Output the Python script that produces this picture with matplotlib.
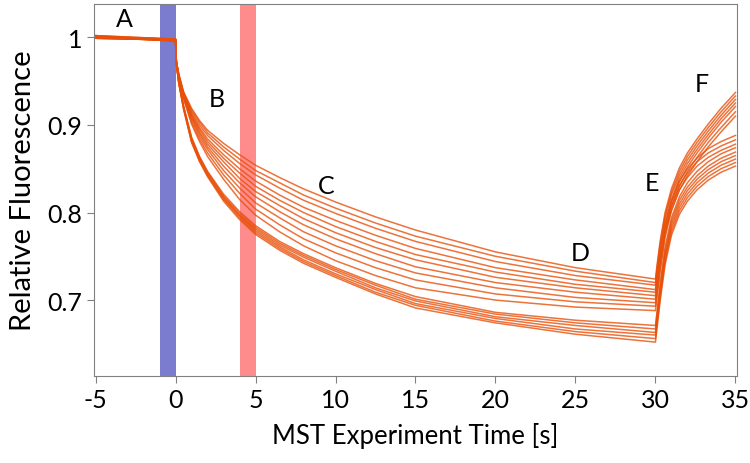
import matplotlib
matplotlib.use("Agg")
import matplotlib.pyplot as plt

plt.rcParams["font.family"] = ["Lato", "DejaVu Sans"]
plt.rcParams["axes.unicode_minus"] = False

# time grids [s]
t_base = [-5, 0]
t_decay = [0.05, 0.2, 0.5, 1, 1.5, 2, 3, 4, 5, 6.5, 8, 10, 12.5, 15, 20, 25, 30]
t_recov = [30.1, 30.3, 30.6, 31, 31.5, 32, 32.6, 33.3, 34.1, 35]

# baseline level before IR laser on (one per trace)
base_start = [1.002, 1.001, 1.000, 1.001, 0.999, 1.000, 1.002, 0.999,
              1.001, 1.000, 0.999, 1.001, 1.000, 0.999, 1.002, 1.000]
base_end = [0.998, 0.997, 0.996, 0.998, 0.997, 0.996, 0.998, 0.997,
            0.996, 0.998, 0.997, 0.996, 0.998, 0.997, 0.996, 0.997]

# thermophoresis (laser on), values at t_decay
decay = [
    [0.972, 0.958, 0.938, 0.919, 0.905, 0.894, 0.879, 0.866, 0.854, 0.840, 0.827, 0.812, 0.795, 0.780, 0.755, 0.737, 0.724],
    [0.972, 0.958, 0.937, 0.917, 0.903, 0.891, 0.875, 0.861, 0.848, 0.834, 0.820, 0.805, 0.788, 0.773, 0.750, 0.733, 0.720],
    [0.972, 0.957, 0.936, 0.915, 0.900, 0.888, 0.871, 0.856, 0.843, 0.828, 0.814, 0.799, 0.782, 0.767, 0.744, 0.728, 0.717],
    [0.972, 0.957, 0.935, 0.913, 0.897, 0.884, 0.866, 0.850, 0.836, 0.820, 0.806, 0.791, 0.774, 0.759, 0.737, 0.723, 0.712],
    [0.972, 0.956, 0.935, 0.911, 0.895, 0.881, 0.862, 0.845, 0.830, 0.814, 0.800, 0.784, 0.767, 0.752, 0.732, 0.718, 0.709],
    [0.972, 0.956, 0.934, 0.910, 0.892, 0.878, 0.858, 0.839, 0.824, 0.808, 0.793, 0.777, 0.760, 0.746, 0.726, 0.714, 0.705],
    [0.971, 0.956, 0.933, 0.908, 0.890, 0.875, 0.853, 0.834, 0.818, 0.801, 0.786, 0.770, 0.753, 0.738, 0.720, 0.709, 0.701],
    [0.971, 0.955, 0.932, 0.906, 0.887, 0.872, 0.848, 0.828, 0.811, 0.794, 0.778, 0.762, 0.745, 0.731, 0.714, 0.703, 0.697],
    [0.971, 0.955, 0.931, 0.903, 0.884, 0.868, 0.843, 0.822, 0.804, 0.786, 0.770, 0.754, 0.737, 0.723, 0.707, 0.698, 0.693],
    [0.971, 0.954, 0.930, 0.901, 0.881, 0.864, 0.838, 0.815, 0.797, 0.778, 0.762, 0.745, 0.728, 0.714, 0.700, 0.692, 0.688],
    [0.970, 0.950, 0.922, 0.886, 0.864, 0.847, 0.821, 0.801, 0.785, 0.767, 0.753, 0.737, 0.719, 0.704, 0.686, 0.677, 0.671],
    [0.970, 0.950, 0.921, 0.885, 0.863, 0.846, 0.819, 0.799, 0.783, 0.765, 0.751, 0.735, 0.717, 0.701, 0.684, 0.674, 0.667],
    [0.970, 0.949, 0.920, 0.884, 0.862, 0.845, 0.818, 0.797, 0.781, 0.763, 0.749, 0.733, 0.714, 0.699, 0.681, 0.671, 0.663],
    [0.970, 0.949, 0.920, 0.882, 0.860, 0.843, 0.816, 0.796, 0.779, 0.761, 0.746, 0.730, 0.712, 0.696, 0.679, 0.667, 0.660],
    [0.970, 0.948, 0.919, 0.881, 0.859, 0.842, 0.815, 0.794, 0.777, 0.759, 0.744, 0.728, 0.709, 0.694, 0.676, 0.664, 0.656],
    [0.970, 0.948, 0.918, 0.880, 0.858, 0.841, 0.813, 0.792, 0.775, 0.757, 0.742, 0.726, 0.707, 0.691, 0.674, 0.661, 0.652],
]

# back-diffusion (laser off), values at t_recov
recov = [
    [0.740, 0.768, 0.800, 0.827, 0.851, 0.868, 0.884, 0.901, 0.919, 0.937],
    [0.736, 0.764, 0.796, 0.823, 0.847, 0.864, 0.880, 0.897, 0.915, 0.933],
    [0.733, 0.761, 0.793, 0.820, 0.843, 0.860, 0.876, 0.893, 0.911, 0.929],
    [0.728, 0.756, 0.788, 0.815, 0.839, 0.856, 0.872, 0.889, 0.907, 0.925],
    [0.725, 0.753, 0.785, 0.812, 0.835, 0.852, 0.868, 0.885, 0.903, 0.921],
    [0.721, 0.748, 0.780, 0.807, 0.830, 0.847, 0.863, 0.880, 0.897, 0.915],
    [0.717, 0.744, 0.776, 0.802, 0.826, 0.842, 0.858, 0.875, 0.892, 0.910],
    [0.712, 0.743, 0.781, 0.813, 0.836, 0.850, 0.862, 0.873, 0.881, 0.888],
    [0.708, 0.738, 0.776, 0.808, 0.831, 0.845, 0.858, 0.868, 0.876, 0.883],
    [0.703, 0.733, 0.771, 0.803, 0.826, 0.840, 0.853, 0.863, 0.871, 0.878],
    [0.687, 0.720, 0.760, 0.794, 0.818, 0.834, 0.847, 0.858, 0.867, 0.874],
    [0.683, 0.715, 0.755, 0.790, 0.814, 0.829, 0.842, 0.853, 0.862, 0.869],
    [0.679, 0.711, 0.751, 0.786, 0.810, 0.825, 0.838, 0.849, 0.858, 0.865],
    [0.676, 0.708, 0.748, 0.782, 0.806, 0.821, 0.834, 0.845, 0.854, 0.861],
    [0.672, 0.704, 0.744, 0.778, 0.802, 0.817, 0.830, 0.841, 0.850, 0.857],
    [0.668, 0.700, 0.740, 0.774, 0.798, 0.813, 0.826, 0.837, 0.846, 0.853],
]

# region labels
letters = ["A", "B", "C", "D", "E", "F"]
letter_x = [-3.2, 2.6, 9.4, 25.3, 29.75, 32.9]
letter_y = [1.021, 0.930, 0.831, 0.754, 0.834, 0.947]

x_ticks = [-5, 0, 5, 10, 15, 20, 25, 30, 35]
y_ticks = [0.7, 0.8, 0.9, 1.0]
y_ticklabels = ["0.7", "0.8", "0.9", "1"]

fig = plt.figure(figsize=(7.5, 4.64), dpi=100)
ax = fig.add_axes([0.1253, 0.1875, 0.8574, 0.8015])

ax.axvspan(-1, 0, color="#7b7bcf", lw=0, zorder=1)
ax.axvspan(4, 5, color="#ff8c8c", lw=0, zorder=1)

t = t_base + t_decay + t_recov
for i in range(len(decay)):
    y = [base_start[i], base_end[i]] + decay[i] + recov[i]
    ax.plot(t, y, color="#e8500a", lw=1.1, alpha=0.8, zorder=2)

for s, x, y in zip(letters, letter_x, letter_y):
    ax.text(x, y, s, fontsize=18, ha="center", va="center")

ax.set_xlim(-5.1, 35.1)
ax.set_ylim(0.6133, 1.038)
ax.set_xticks(x_ticks)
ax.set_xticklabels([str(v) for v in x_ticks])
ax.set_yticks(y_ticks)
ax.set_yticklabels(y_ticklabels)
ax.tick_params(labelsize=18, color="#808080", length=5, direction="out")
for sp in ax.spines.values():
    sp.set_color("#808080")
ax.set_xlabel("MST Experiment Time [s]", fontsize=18.5, labelpad=8)
ax.set_ylabel("Relative Fluorescence", fontsize=21, labelpad=8)

fig.savefig("out.png", dpi=100)
